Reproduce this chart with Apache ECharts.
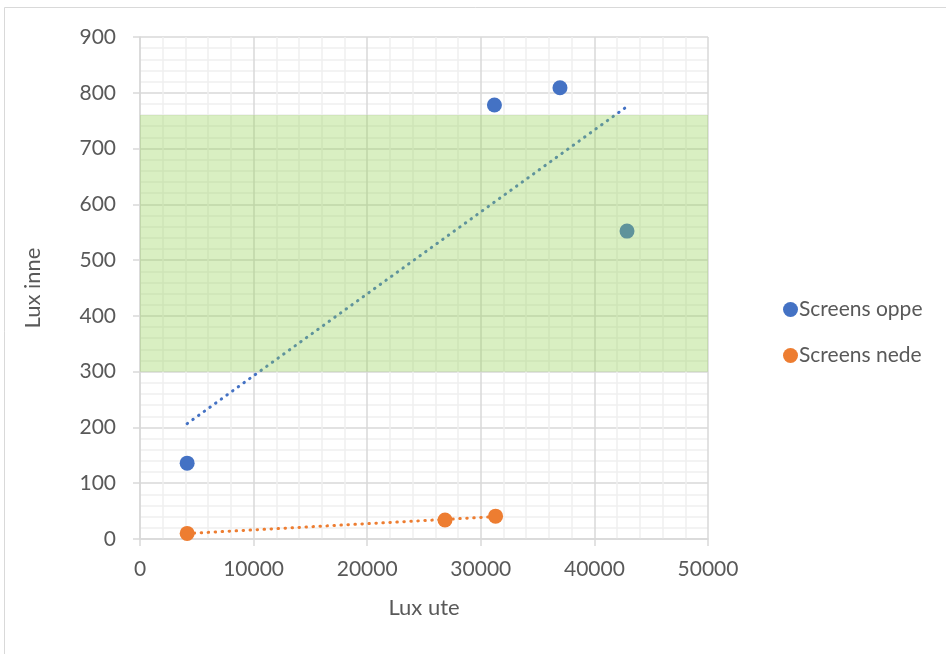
<!DOCTYPE html>
<html><head><meta charset="utf-8">
<script src="https://cdn.jsdelivr.net/npm/echarts@6/dist/echarts.min.js"></script>
<style>html,body{margin:0;padding:0;background:#fff}#c{width:946px;height:654px}</style>
</head><body><div id="c"></div>
<script>
var oppeX = [4150, 31200, 36970, 42870];
var oppeY = [136, 778, 809, 552];
var nedeX = [4150, 26850, 31300];
var nedeY = [10, 34, 41];
var band = [[0, 300, 50000, 760]];
var seriesNames = ['Screens oppe', 'Screens nede'];

function pairs(xs, ys){ return xs.map(function(x,i){return [x, ys[i]];}); }
function trend(xs, ys){
  var n = xs.length, mx = 0, my = 0;
  for (var i=0;i<n;i++){ mx += xs[i]; my += ys[i]; }
  mx/=n; my/=n;
  var sxy=0, sxx=0;
  for (var i=0;i<n;i++){ sxy += (xs[i]-mx)*(ys[i]-my); sxx += (xs[i]-mx)*(xs[i]-mx); }
  var b = sxy/sxx, a = my - b*mx;
  var x0 = Math.min.apply(null, xs), x1 = Math.max.apply(null, xs);
  return [[x0, a+b*x0], [x1, a+b*x1]];
}
var FONT = 'Lato';
var chart = echarts.init(document.getElementById('c'));
chart.setOption({
  animation: false,
  backgroundColor: '#fff',
  textStyle: {fontFamily: FONT},
  graphic: [{type:'rect', shape:{x:4.5, y:7.5, width:960, height:700}, style:{fill:null, stroke:'#d9d9d9', lineWidth:1}, z:-10, silent:true}],
  grid: {left: 140, right: 238, top: 37, bottom: 115},
  legend: {
    data: seriesNames.map(function(n){return {name:n, icon:'circle'};}),
    orient: 'vertical', left: 778, top: 294, itemGap: 25, itemWidth: 15, itemHeight: 15,
    textStyle: {fontFamily: FONT, fontSize: 21, color: '#595959', padding:[0,0,0,-4]}
  },
  xAxis: {
    type: 'value', min: 0, max: 50000, interval: 10000,
    name: 'Lux ute', nameLocation: 'middle', nameGap: 58,
    nameTextStyle: {fontFamily: FONT, fontSize: 22, color: '#595959'},
    axisLine: {show: true, lineStyle: {color: '#d9d9d9', width: 1.5}},
    axisTick: {show: true, length: 7, lineStyle: {color: '#d9d9d9', width: 1.5}},
    axisLabel: {fontFamily: FONT, fontSize: 21, color: '#595959', margin: 20, formatter: function(v){return String(v);}},
    splitLine: {show: true, lineStyle: {color: '#d9d9d9', width: 1.5}},
    minorTick: {show: false, splitNumber: 5},
    minorSplitLine: {show: true, lineStyle: {color: '#f0f0f0', width: 1.5}}
  },
  yAxis: {
    type: 'value', min: 0, max: 900, interval: 100,
    name: 'Lux inne', nameLocation: 'middle', nameGap: 96, nameRotate: 90,
    nameTextStyle: {fontFamily: FONT, fontSize: 22, color: '#595959'},
    axisLine: {show: true, lineStyle: {color: '#d9d9d9', width: 1.5}},
    axisTick: {show: true, length: 7, lineStyle: {color: '#d9d9d9', width: 1.5}},
    axisLabel: {fontFamily: FONT, fontSize: 21, color: '#595959', margin: 24},
    splitLine: {show: true, lineStyle: {color: '#d9d9d9', width: 1.5}},
    minorTick: {show: false, splitNumber: 5},
    minorSplitLine: {show: true, lineStyle: {color: '#f0f0f0', width: 1.5}}
  },
  series: [
    {name: seriesNames[0], type: 'scatter', data: pairs(oppeX, oppeY), symbolSize: 15, itemStyle: {color: '#4472C4', opacity: 1}, z: 3},
    {name: seriesNames[1], type: 'scatter', data: pairs(nedeX, nedeY), symbolSize: 15, itemStyle: {color: '#ED7D31', opacity: 1}, z: 3},
    {name: 'trend1', type: 'line', data: trend(oppeX, oppeY), showSymbol: false, symbol: 'none',
      lineStyle: {color: '#4472C4', width: 3, type: [0.5, 6.5], cap: 'round'}, z: 2},
    {name: 'trend2', type: 'line', data: trend(nedeX, nedeY), showSymbol: false, symbol: 'none',
      lineStyle: {color: '#ED7D31', width: 3, type: [0.5, 6.5], cap: 'round'}, z: 2},
    {name: 'band', type: 'custom', data: band, z: 10, silent: true,
      renderItem: function(params, api){
        var p0 = api.coord([api.value(0), api.value(3)]);
        var p1 = api.coord([api.value(2), api.value(1)]);
        return {type: 'rect', shape: {x: p0[0], y: p0[1], width: p1[0]-p0[0], height: p1[1]-p0[1]},
          style: {fill: 'rgba(146,208,80,0.35)'}};
      }}
  ]
});
</script></body></html>
